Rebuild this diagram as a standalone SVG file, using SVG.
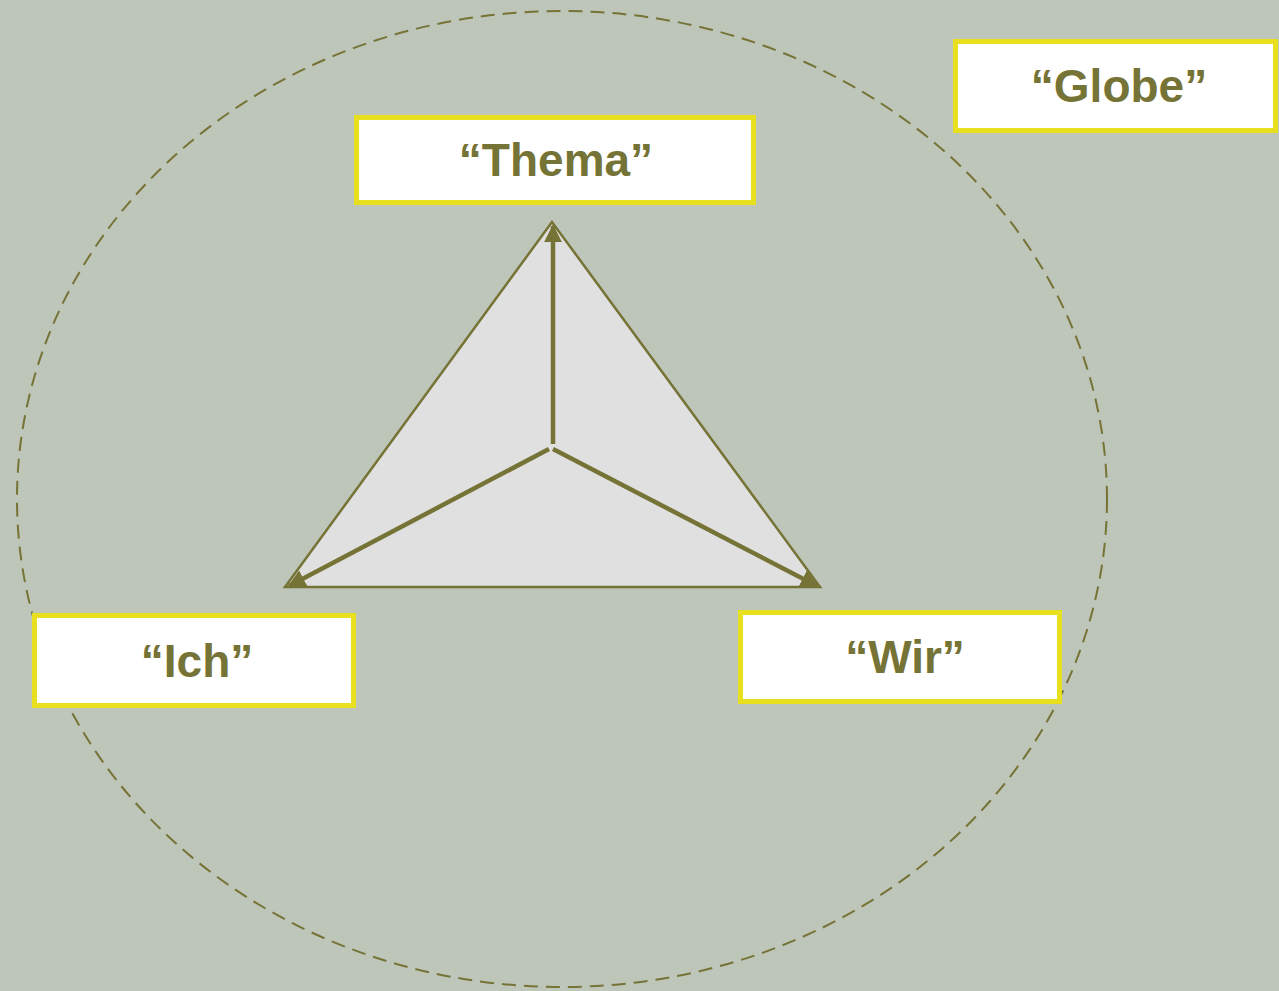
<svg xmlns="http://www.w3.org/2000/svg" width="1279" height="991" viewBox="0 0 1279 991">
<style>
.box rect{fill:#ffffff;stroke:#E8DF1F;stroke-width:5}
.box text{font-family:"Liberation Sans",Arial,sans-serif;font-weight:bold;font-size:46px;fill:#767337;text-anchor:middle}
.arr{stroke:#767337;stroke-width:4.5;fill:none;marker-end:url(#ah)}
</style>
<defs>
<marker id="ah" viewBox="0 0 10 10" refX="9" refY="5" markerWidth="4" markerHeight="4" orient="auto" markerUnits="strokeWidth">
<path d="M0,0 L10,5 L0,10 z" fill="#767337"/>
</marker>
</defs>
<rect width="1279" height="991" fill="#BEC6BA"/>
<ellipse cx="562" cy="499" rx="545" ry="488" fill="none" stroke="#767337" stroke-width="2" stroke-dasharray="14,8"/>
<g id="triangle">
<polygon points="552,222 285,587 820,587" fill="#E0E0E0" stroke="#767337" stroke-width="2.5"/>
</g>
<g id="connectors">
<line class="arr" x1="553" y1="444" x2="553" y2="226"/>
<line class="arr" x1="549" y1="449" x2="289" y2="586"/>
<line class="arr" x1="553" y1="449" x2="817" y2="586"/>
</g>
<g id="thema" class="box">
<rect x="356.5" y="117.5" width="397" height="85"/>
<text x="556" y="176">“Thema”</text>
</g>
<g id="globe" class="box">
<rect x="955.5" y="41.5" width="320" height="89"/>
<text x="1119" y="102">“Globe”</text>
</g>
<g id="ich" class="box">
<rect x="34.5" y="615.5" width="319" height="90"/>
<text x="197" y="677">“Ich”</text>
</g>
<g id="wir" class="box">
<rect x="740.5" y="612.5" width="319" height="89"/>
<text x="905" y="673">“Wir”</text>
</g>
</svg>
